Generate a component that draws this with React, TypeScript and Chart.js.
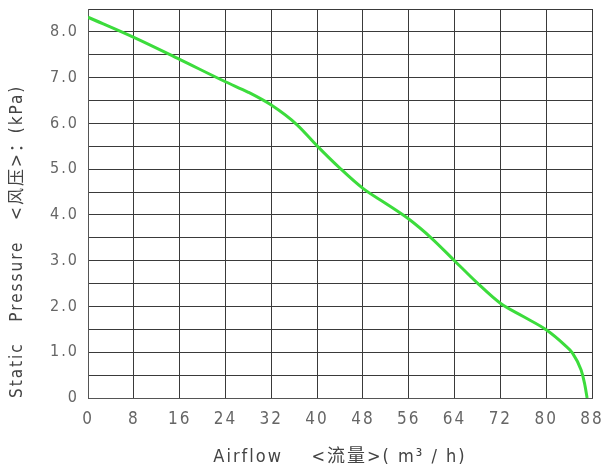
import React, { useEffect, useRef } from 'react';
import { Chart, registerables } from 'chart.js';

Chart.register(...registerables);

// Airflow (m³/h) vs static pressure (kPa)
const airflow = [0, 8, 16, 24, 28, 32, 36.5, 40, 44, 48, 52, 56, 60, 64, 68, 72, 76, 80, 83.2, 84.6, 86.1, 86.7, 87.15];
const pressure = [8.32, 7.88, 7.4, 6.91, 6.68, 6.4, 5.97, 5.51, 5.02, 4.58, 4.25, 3.91, 3.49, 3.0, 2.51, 2.07, 1.78, 1.49, 1.16, 0.98, 0.61, 0.32, 0];

const xTitle = 'Airflow    <流量>( m³ / h)';
const yTitle = 'Static   Pressure   <风压>：(kPa)';

const FONT = "'DejaVu Sans', 'Noto Sans CJK SC', sans-serif";
// 'condensed' goes into the canvas font shorthand as font-stretch
const NARROW = 'condensed';

// wide tracking like the CAD-style lettering in the original
const spacingPlugin = {
  id: 'letterSpacing',
  beforeDraw: (chart: any) => {
    chart.ctx.letterSpacing = '2px';
  },
};

const App: React.FC = () => {
  const chartRef = useRef<HTMLCanvasElement | null>(null);
  const chartInstance = useRef<Chart | null>(null);

  useEffect(() => {
    document.body.style.margin = '0';
    if (!chartRef.current) return;
    const ctx = chartRef.current.getContext('2d');
    if (!ctx) return;

    const points = airflow.map((x, i) => ({ x, y: pressure[i] }));

    chartInstance.current = new Chart(ctx, {
      type: 'line',
      data: {
        datasets: [
          {
            data: points,
            borderColor: '#3cdc3c',
            borderWidth: 3,
            pointRadius: 0,
            cubicInterpolationMode: 'monotone',
            fill: false,
          },
        ],
      },
      options: {
        animation: false,
        responsive: true,
        maintainAspectRatio: false,
        layout: { padding: { left: 0, top: 9, right: 15, bottom: 0 } },
        plugins: {
          legend: { display: false },
          tooltip: { enabled: false },
        },
        scales: {
          x: {
            type: 'linear',
            min: 0,
            max: 88,
            grid: { color: '#3a3a3a', lineWidth: 1, drawTicks: false },
            border: { color: '#555' },
            ticks: {
              stepSize: 8,
              autoSkip: false,
              maxRotation: 0,
              padding: 11,
              color: '#666',
              font: { family: FONT, size: 17, weight: NARROW },
            },
            title: {
              display: true,
              text: xTitle,
              color: '#444',
              padding: { top: 0, bottom: 5 },
              font: { family: FONT, size: 18, weight: NARROW },
            },
            afterFit: (scale: any) => {
              scale.height = 75;
              scale.paddingLeft = 0;
              scale.paddingRight = 0;
            },
          },
          y: {
            min: 0,
            max: 8.5,
            grid: { color: '#3a3a3a', lineWidth: 1, drawTicks: false },
            border: { color: '#555' },
            ticks: {
              stepSize: 0.5,
              autoSkip: false,
              padding: 9,
              color: '#666',
              font: { family: FONT, size: 16, weight: NARROW },
              callback: (value: any) => {
                const v = Number(value);
                if (v === 0) return '0';
                return Number.isInteger(v) ? v.toFixed(1) : '';
              },
            },
            title: {
              display: true,
              text: yTitle,
              align: 'start',
              color: '#444',
              padding: { top: 7, bottom: 0 },
              font: { family: FONT, size: 17, weight: NARROW },
            },
            afterFit: (scale: any) => {
              scale.width = 88;
              scale.paddingTop = 0;
              scale.paddingBottom = 0;
            },
          },
        },
      },
      plugins: [spacingPlugin],
    } as any);

    return () => {
      if (chartInstance.current) {
        chartInstance.current.destroy();
        chartInstance.current = null;
      }
    };
  }, []);

  return (
    <div style={{ position: 'relative', width: 607, height: 473, background: '#fff' }}>
      <canvas ref={chartRef}></canvas>
    </div>
  );
};

export default App;
